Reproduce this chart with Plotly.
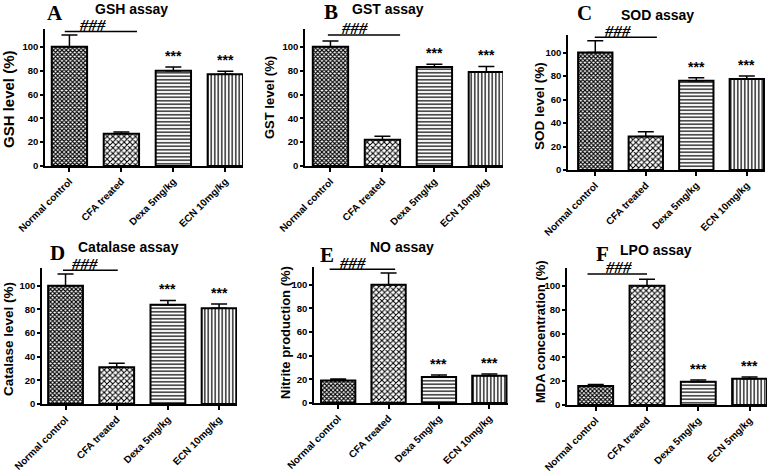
import plotly.graph_objects as go

W, H = 777, 471

groups = ["Normal control", "CFA treated", "Dexa 5mg/kg", "ECN 10mg/kg"]
groups_lpo = ["Normal control", "CFA treated", "Dexa 5mg/kg", "ECN 5mg/kg"]

gsh = [100, 27, 80, 77]
gsh_err = [10, 1.5, 3, 2.5]
gst = [100, 22, 83, 79]
gst_err = [5, 3, 2.5, 4.5]
sod = [100, 28.5, 76, 77.5]
sod_err = [10, 4, 2.5, 2.5]
cat = [100, 31, 84, 81]
cat_err = [10, 3.5, 3.5, 3.5]
no = [19, 100, 22, 23]
no_err = [1.3, 10, 1.6, 1.6]
lpo = [16, 100, 19.5, 22]
lpo_err = [1.2, 5.5, 1.5, 1.5]

letters = ["A", "B", "C", "D", "E", "F"]
titles = ["GSH assay", "GST assay", "SOD assay", "Catalase assay", "NO assay", "LPO assay"]
ytitles = ["GSH level (%)", "GST level (%)", "SOD level (%)", "Catalase level (%)",
           "Nitrite production (%)", "MDA concentration (%)"]
yticks = [0, 20, 40, 60, 80, 100]
sig_hash = "###"
sig_star = "***"

# layout geometry (pixels): plot left, right, top, bottom; x range
geo = [
    dict(l=45, r=243, t=29, b=166, xr=[-0.47, 3.34], ttl=(131, 9), let=(55, 13), yt=(9, 99, 15),
         hline=(-0.09, 1.30), hy=113, hx=0.45),
    dict(l=305, r=503, t=29, b=166, xr=[-0.49, 3.32], ttl=(388, 9), let=(331, 12), yt=(270, 98, 13),
         hline=(-0.05, 1.34), hy=110, hx=0.47),
    dict(l=568, r=765, t=35, b=170, xr=[-0.54, 3.36], ttl=(657, 15), let=(584, 13), yt=(540, 106, 13.5),
         hline=(-0.01, 1.22), hy=113, hx=0.44),
    dict(l=42, r=237, t=268, b=404, xr=[-0.46, 3.35], ttl=(128, 247), let=(57, 253), yt=(8, 339, 13.5),
         hline=(-0.05, 1.02), hy=113, hx=0.38),
    dict(l=314, r=508, t=267, b=403, xr=[-0.48, 3.37], ttl=(402, 247), let=(327, 255), yt=(285, 333, 13),
         hline=(-0.17, 1.13), hy=113, hx=0.28),
    dict(l=567, r=767, t=268, b=405, xr=[-0.56, 3.34], ttl=(656, 250), let=(602, 254), yt=(540, 332, 13),
         hline=(-0.16, 1.0), hy=110, hx=0.45),
]

data = [(groups, gsh, gsh_err), (groups, gst, gst_err), (groups, sod, sod_err),
        (groups, cat, cat_err), (groups, no, no_err), (groups_lpo, lpo, lpo_err)]

BOLD = dict(family="Liberation Sans, Arial", color="black", weight="bold")

fig = go.Figure()
annotations = []
shapes = []
layout_axes = {}

for k, ((cats, vals, errs), g) in enumerate(zip(data, geo)):
    i = k + 1
    xs = "" if i == 1 else str(i)
    xa, ya = "x" + xs, "y" + xs
    fig.add_trace(go.Bar(
        x=list(range(4)), y=vals, width=0.68, xaxis=xa, yaxis=ya, showlegend=False,
        marker=dict(color="white", line=dict(color="black", width=2),
                    pattern=dict(shape=["x", "x", "-", "|"], size=[3, 4, 3.5, 3.5],
                                 solidity=[0.6, 0.45, 0.35, 0.35],
                                 fgcolor="black", bgcolor="white", fillmode="replace")),
        error_y=dict(type="data", array=errs, arrayminus=[0] * 4, symmetric=False,
                     color="black", thickness=1.5, width=8),
    ))
    layout_axes["xaxis" + xs] = dict(
        domain=[g["l"] / W, g["r"] / W], anchor=ya, range=g["xr"], automargin=False,
        tickmode="array", tickvals=list(range(4)), ticktext=cats, tickangle=-45,
        tickfont=dict(size=10, **BOLD), showline=True, linecolor="black", linewidth=1.5,
        ticks="outside", ticklen=4, tickwidth=1.5, tickcolor="black", showgrid=False, zeroline=False)
    layout_axes["yaxis" + xs] = dict(
        domain=[1 - g["b"] / H, 1 - g["t"] / H], anchor=xa, range=[0, 115], automargin=False,
        tickmode="array", tickvals=yticks, tickfont=dict(size=9.5, **BOLD),
        showline=True, linecolor="black", linewidth=1.5, ticks="outside", ticklen=3,
        tickwidth=1.5, tickcolor="black", showgrid=False, zeroline=False)
    # panel title
    annotations.append(dict(text=titles[k], x=g["ttl"][0] / W, y=1 - g["ttl"][1] / H,
                            xref="paper", yref="paper", showarrow=False, xanchor="center",
                            yanchor="middle", font=dict(size=14, **BOLD)))
    # letter
    annotations.append(dict(text=letters[k], x=g["let"][0] / W, y=1 - g["let"][1] / H,
                            xref="paper", yref="paper", showarrow=False, xanchor="center",
                            yanchor="middle",
                            font=dict(size=21, family="Liberation Serif, Times New Roman",
                                      color="black", weight="bold")))
    # y title
    annotations.append(dict(text=ytitles[k], x=g["yt"][0] / W, y=1 - g["yt"][1] / H,
                            xref="paper", yref="paper", showarrow=False, xanchor="center",
                            yanchor="middle", textangle=-90, font=dict(size=g["yt"][2], **BOLD)))
    # ### bracket
    shapes.append(dict(type="line", xref=xa, yref=ya, x0=g["hline"][0], x1=g["hline"][1],
                       y0=g["hy"], y1=g["hy"], line=dict(color="black", width=1.5)))
    annotations.append(dict(text=sig_hash, x=g["hx"], y=g["hy"], xref=xa, yref=ya,
                            showarrow=False, xanchor="center", yanchor="middle", yshift=6,
                            font=dict(size=17, family="Liberation Serif, Times New Roman",
                                      color="black", weight="bold", style="italic")))
    # stars
    for j in (2, 3):
        annotations.append(dict(text=sig_star, x=j, y=vals[j] + errs[j] + 1, xref=xa, yref=ya,
                                showarrow=False, xanchor="center", yanchor="bottom",
                                font=dict(size=14, **BOLD)))

fig.update_layout(width=W, height=H, margin=dict(l=0, r=0, t=0, b=0),
                  paper_bgcolor="white", plot_bgcolor="white",
                  annotations=annotations, shapes=shapes, bargap=0.3, **layout_axes)
fig.write_html("out.html", config={"displayModeBar": False},
               post_script="document.body.style.margin='0';")
